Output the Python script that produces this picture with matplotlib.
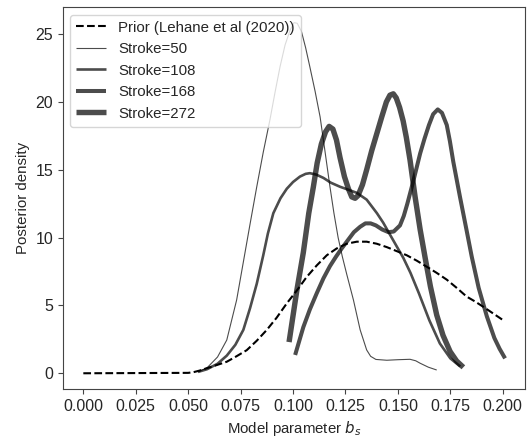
import matplotlib
matplotlib.use("Agg")
import matplotlib.pyplot as plt
from matplotlib.ticker import FormatStrFormatter

plt.rcParams['font.family'] = ['Liberation Sans', 'DejaVu Sans']

prior_x = [0.0, 0.05, 0.0525, 0.0555, 0.0588, 0.0635, 0.0684, 0.073, 0.0779, 0.0827,
           0.0875, 0.0922, 0.097, 0.1018, 0.1065, 0.1113, 0.1161, 0.1208, 0.1256,
           0.1304, 0.1351, 0.1399, 0.1447, 0.1495, 0.1542, 0.159, 0.1638, 0.1685,
           0.1733, 0.178, 0.1828, 0.1867, 0.1907, 0.1955, 0.2003]
prior_y = [0.0, 0.03, 0.08, 0.2, 0.37, 0.6, 0.85, 1.25, 1.7, 2.4,
           3.2, 4.1, 5.15, 6.1, 7.1, 7.95, 8.7, 9.2, 9.55,
           9.7, 9.7, 9.55, 9.3, 9.0, 8.7, 8.3, 7.85, 7.4,
           6.9, 6.3, 5.65, 5.3, 4.9, 4.4, 3.9]

s50_x = [0.0547, 0.059, 0.064, 0.0684, 0.0731, 0.0763, 0.0795, 0.0827, 0.0858,
         0.089, 0.0914, 0.0938, 0.0962, 0.0986, 0.1005, 0.102, 0.104, 0.106,
         0.108, 0.1105, 0.1129, 0.1152, 0.1176, 0.1195, 0.1215, 0.1235, 0.1256,
         0.1288, 0.132, 0.1351, 0.137, 0.1395, 0.1447, 0.150, 0.1558, 0.1585,
         0.1606, 0.1645, 0.1685]
s50_y = [0.1, 0.4, 1.2, 2.45, 5.4, 8.2, 11.0, 13.75, 16.3,
         18.7, 20.7, 22.6, 24.2, 25.3, 25.85, 25.8, 25.2, 24.0,
         22.6, 20.8, 18.9, 16.4, 13.75, 11.8, 10.0, 8.6, 7.3,
         5.4, 3.2, 1.72, 1.25, 1.02, 0.96, 1.0, 1.03, 0.92,
         0.74, 0.45, 0.24]

s108_x = [0.0547, 0.059, 0.064, 0.0684, 0.0725, 0.0763, 0.0795, 0.0827, 0.0858,
          0.088, 0.0906, 0.094, 0.097, 0.100, 0.1033, 0.106, 0.108, 0.111,
          0.1145, 0.118, 0.1224, 0.126, 0.1304, 0.1351, 0.140, 0.143, 0.1463,
          0.150, 0.1526, 0.156, 0.160, 0.165, 0.170, 0.175, 0.1797]
s108_y = [0.1, 0.3, 0.7, 1.3, 2.1, 3.2, 4.8, 6.6, 8.7,
          10.3, 11.8, 12.9, 13.6, 14.1, 14.5, 14.7, 14.75, 14.65,
          14.4, 14.05, 13.75, 13.55, 13.3, 12.8, 11.8, 11.1, 10.2,
          9.2, 8.5, 7.4, 5.9, 3.9, 2.2, 1.1, 0.5]

s168_x = [0.101, 0.1049, 0.108, 0.1113, 0.1145, 0.1176, 0.1205, 0.1232, 0.1256,
          0.129, 0.132, 0.1345, 0.137, 0.1395, 0.1425, 0.1455, 0.148, 0.151,
          0.1528, 0.1545, 0.1574, 0.1606, 0.1627, 0.1648, 0.1668, 0.169, 0.171,
          0.1733, 0.1748, 0.1764, 0.1796, 0.1828, 0.1852, 0.1885, 0.1924, 0.196,
          0.1985, 0.2011]
s168_y = [1.35, 3.4, 4.7, 5.9, 7.0, 7.9, 8.6, 9.2, 9.7,
          10.4, 10.8, 11.05, 11.05, 10.9, 10.6, 10.4, 10.45, 10.9,
          11.6, 12.5, 14.2, 16.2, 17.3, 18.3, 19.1, 19.45, 19.2,
          18.3, 17.1, 15.6, 13.0, 10.5, 8.6, 6.3, 4.2, 2.6,
          1.8, 1.1]

s272_x = [0.0981, 0.1018, 0.1049, 0.1075, 0.1097, 0.1115, 0.1135, 0.1155, 0.1172,
          0.119, 0.1207, 0.1224, 0.1245, 0.1264, 0.128, 0.1296, 0.131, 0.1331,
          0.1351, 0.1375, 0.140, 0.1423, 0.1445, 0.1462, 0.1478, 0.1492, 0.1508,
          0.1525, 0.154, 0.1558, 0.1582, 0.1606, 0.163, 0.1655, 0.1685, 0.1715,
          0.1749, 0.178, 0.1812]
s272_y = [2.3, 6.1, 8.9, 11.8, 13.75, 15.5, 16.9, 17.8, 18.2,
          18.0, 17.2, 15.9, 14.5, 13.6, 13.0, 12.9, 13.1, 13.9,
          15.0, 16.4, 17.7, 18.9, 20.0, 20.5, 20.6, 20.3, 19.6,
          18.6, 17.4, 15.7, 13.0, 10.6, 8.5, 6.4, 4.3, 2.8,
          1.6, 0.9, 0.44]

labels = ["Prior (Lehane et al (2020))", "Stroke=50", "Stroke=108",
          "Stroke=168", "Stroke=272"]
xticks = [0.0, 0.025, 0.05, 0.075, 0.1, 0.125, 0.15, 0.175, 0.2]
yticks = [0, 5, 10, 15, 20, 25]

txt = '#262626'
fig = plt.figure(figsize=(5.31, 4.41), dpi=100)
ax = fig.add_axes([0.1186, 0.1179, 0.8701, 0.8662])

kw = dict(color='black', alpha=0.7, solid_joinstyle='round', solid_capstyle='butt')
ax.plot(prior_x, prior_y, color='black', ls='--', lw=1.5, label=labels[0])
ax.plot(s50_x, s50_y, lw=0.8, label=labels[1], **kw)
ax.plot(s108_x, s108_y, lw=1.9, label=labels[2], **kw)
ax.plot(s168_x, s168_y, lw=2.9, label=labels[3], **kw)
ax.plot(s272_x, s272_y, lw=3.9, label=labels[4], **kw)

ax.set_xlim(-0.0097, 0.2106)
ax.set_ylim(-1.16, 27.0)
ax.set_xticks(xticks)
ax.set_yticks(yticks)
ax.xaxis.set_major_formatter(FormatStrFormatter('%.3f'))
ax.tick_params(labelsize=11.5, colors=txt, color='#444444')
for s in ax.spines.values():
    s.set_color('#444444')
ax.set_xlabel('Model parameter $b_s$', fontsize=10.8, color=txt)
ax.set_ylabel('Posterior density', fontsize=10.8, color=txt)
leg = ax.legend(loc='upper left', fontsize=10.8, labelcolor=txt)

fig.savefig('out.png', dpi=100)
